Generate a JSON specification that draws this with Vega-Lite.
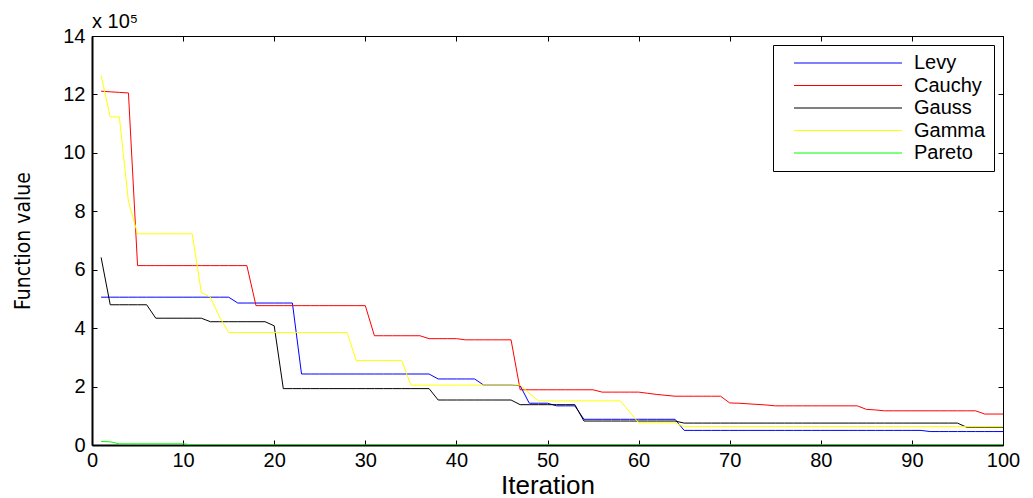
{
  "$schema": "https://vega.github.io/schema/vega-lite/v6.json",
  "width": 911,
  "height": 409,
  "autosize": "none",
  "padding": {"left": 92, "top": 36, "right": 30, "bottom": 53},
  "background": "white",
  "config": {
    "view": {"stroke": "black", "strokeWidth": 1},
    "axis": {"grid": false, "domainColor": "black", "tickColor": "black", "labelColor": "black", "titleColor": "black", "labelFont": "Liberation Sans", "titleFont": "Liberation Sans", "titleFontWeight": "normal", "labelFontSize": 20, "tickSize": -5, "tickWidth": 1}
  },
  "datasets": {
    "runs": [
    {"i":1,"Levy":5.06,"Cauchy":12.11,"Gauss":6.42,"Gamma":12.65,"Pareto":0.12},
    {"i":2,"Levy":5.06,"Cauchy":12.09,"Gauss":4.80,"Gamma":11.23,"Pareto":0.11},
    {"i":3,"Levy":5.06,"Cauchy":12.07,"Gauss":4.80,"Gamma":11.23,"Pareto":0.04},
    {"i":4,"Levy":5.06,"Cauchy":12.05,"Gauss":4.80,"Gamma":8.34,"Pareto":0.04},
    {"i":5,"Levy":5.06,"Cauchy":6.14,"Gauss":4.80,"Gamma":7.23,"Pareto":0.04},
    {"i":6,"Levy":5.06,"Cauchy":6.14,"Gauss":4.80,"Gamma":7.23,"Pareto":0.04},
    {"i":7,"Levy":5.06,"Cauchy":6.14,"Gauss":4.34,"Gamma":7.23,"Pareto":0.04},
    {"i":8,"Levy":5.06,"Cauchy":6.14,"Gauss":4.34,"Gamma":7.23,"Pareto":0.04},
    {"i":9,"Levy":5.06,"Cauchy":6.14,"Gauss":4.34,"Gamma":7.23,"Pareto":0.04},
    {"i":10,"Levy":5.06,"Cauchy":6.14,"Gauss":4.34,"Gamma":7.23,"Pareto":0.04},
    {"i":11,"Levy":5.06,"Cauchy":6.14,"Gauss":4.34,"Gamma":7.23,"Pareto":0.005},
    {"i":12,"Levy":5.06,"Cauchy":6.14,"Gauss":4.34,"Gamma":5.22,"Pareto":0.005},
    {"i":13,"Levy":5.06,"Cauchy":6.14,"Gauss":4.22,"Gamma":5.06,"Pareto":0.005},
    {"i":14,"Levy":5.06,"Cauchy":6.14,"Gauss":4.22,"Gamma":4.38,"Pareto":0.005},
    {"i":15,"Levy":5.06,"Cauchy":6.14,"Gauss":4.22,"Gamma":3.85,"Pareto":0.005},
    {"i":16,"Levy":4.86,"Cauchy":6.14,"Gauss":4.22,"Gamma":3.85,"Pareto":0.005},
    {"i":17,"Levy":4.86,"Cauchy":6.14,"Gauss":4.22,"Gamma":3.85,"Pareto":0.005},
    {"i":18,"Levy":4.86,"Cauchy":4.77,"Gauss":4.22,"Gamma":3.85,"Pareto":0.005},
    {"i":19,"Levy":4.86,"Cauchy":4.77,"Gauss":4.22,"Gamma":3.85,"Pareto":0.005},
    {"i":20,"Levy":4.86,"Cauchy":4.77,"Gauss":4.08,"Gamma":3.85,"Pareto":0.005},
    {"i":21,"Levy":4.86,"Cauchy":4.77,"Gauss":1.93,"Gamma":3.85,"Pareto":0.005},
    {"i":22,"Levy":4.86,"Cauchy":4.77,"Gauss":1.93,"Gamma":3.85,"Pareto":0.005},
    {"i":23,"Levy":2.43,"Cauchy":4.77,"Gauss":1.93,"Gamma":3.85,"Pareto":0.005},
    {"i":24,"Levy":2.43,"Cauchy":4.77,"Gauss":1.93,"Gamma":3.85,"Pareto":0.005},
    {"i":25,"Levy":2.43,"Cauchy":4.77,"Gauss":1.93,"Gamma":3.85,"Pareto":0.005},
    {"i":26,"Levy":2.43,"Cauchy":4.77,"Gauss":1.93,"Gamma":3.85,"Pareto":0.005},
    {"i":27,"Levy":2.43,"Cauchy":4.77,"Gauss":1.93,"Gamma":3.85,"Pareto":0.005},
    {"i":28,"Levy":2.43,"Cauchy":4.77,"Gauss":1.93,"Gamma":3.85,"Pareto":0.005},
    {"i":29,"Levy":2.43,"Cauchy":4.77,"Gauss":1.93,"Gamma":2.89,"Pareto":0.005},
    {"i":30,"Levy":2.43,"Cauchy":4.77,"Gauss":1.93,"Gamma":2.89,"Pareto":0.005},
    {"i":31,"Levy":2.43,"Cauchy":3.74,"Gauss":1.93,"Gamma":2.89,"Pareto":0.005},
    {"i":32,"Levy":2.43,"Cauchy":3.74,"Gauss":1.93,"Gamma":2.89,"Pareto":0.005},
    {"i":33,"Levy":2.43,"Cauchy":3.74,"Gauss":1.93,"Gamma":2.89,"Pareto":0.005},
    {"i":34,"Levy":2.43,"Cauchy":3.74,"Gauss":1.93,"Gamma":2.89,"Pareto":0.005},
    {"i":35,"Levy":2.43,"Cauchy":3.74,"Gauss":1.93,"Gamma":2.05,"Pareto":0.005},
    {"i":36,"Levy":2.43,"Cauchy":3.74,"Gauss":1.93,"Gamma":2.05,"Pareto":0.005},
    {"i":37,"Levy":2.43,"Cauchy":3.64,"Gauss":1.93,"Gamma":2.05,"Pareto":0.005},
    {"i":38,"Levy":2.26,"Cauchy":3.64,"Gauss":1.54,"Gamma":2.05,"Pareto":0.005},
    {"i":39,"Levy":2.26,"Cauchy":3.64,"Gauss":1.54,"Gamma":2.05,"Pareto":0.005},
    {"i":40,"Levy":2.26,"Cauchy":3.64,"Gauss":1.54,"Gamma":2.05,"Pareto":0.005},
    {"i":41,"Levy":2.26,"Cauchy":3.60,"Gauss":1.54,"Gamma":2.05,"Pareto":0.005},
    {"i":42,"Levy":2.26,"Cauchy":3.60,"Gauss":1.54,"Gamma":2.05,"Pareto":0.005},
    {"i":43,"Levy":2.05,"Cauchy":3.60,"Gauss":1.54,"Gamma":2.05,"Pareto":0.005},
    {"i":44,"Levy":2.05,"Cauchy":3.60,"Gauss":1.54,"Gamma":2.05,"Pareto":0.005},
    {"i":45,"Levy":2.05,"Cauchy":3.60,"Gauss":1.54,"Gamma":2.05,"Pareto":0.005},
    {"i":46,"Levy":2.05,"Cauchy":3.60,"Gauss":1.54,"Gamma":2.05,"Pareto":0.005},
    {"i":47,"Levy":2.03,"Cauchy":1.89,"Gauss":1.38,"Gamma":2.05,"Pareto":0.005},
    {"i":48,"Levy":1.43,"Cauchy":1.89,"Gauss":1.38,"Gamma":1.77,"Pareto":0.005},
    {"i":49,"Levy":1.43,"Cauchy":1.89,"Gauss":1.38,"Gamma":1.51,"Pareto":0.005},
    {"i":50,"Levy":1.43,"Cauchy":1.89,"Gauss":1.38,"Gamma":1.51,"Pareto":0.005},
    {"i":51,"Levy":1.34,"Cauchy":1.89,"Gauss":1.38,"Gamma":1.51,"Pareto":0.005},
    {"i":52,"Levy":1.34,"Cauchy":1.89,"Gauss":1.38,"Gamma":1.51,"Pareto":0.005},
    {"i":53,"Levy":1.34,"Cauchy":1.89,"Gauss":1.38,"Gamma":1.51,"Pareto":0.005},
    {"i":54,"Levy":0.88,"Cauchy":1.89,"Gauss":0.82,"Gamma":1.51,"Pareto":0.005},
    {"i":55,"Levy":0.88,"Cauchy":1.89,"Gauss":0.82,"Gamma":1.51,"Pareto":0.005},
    {"i":56,"Levy":0.88,"Cauchy":1.81,"Gauss":0.82,"Gamma":1.51,"Pareto":0.005},
    {"i":57,"Levy":0.88,"Cauchy":1.81,"Gauss":0.82,"Gamma":1.51,"Pareto":0.005},
    {"i":58,"Levy":0.88,"Cauchy":1.81,"Gauss":0.82,"Gamma":1.51,"Pareto":0.005},
    {"i":59,"Levy":0.88,"Cauchy":1.81,"Gauss":0.82,"Gamma":1.14,"Pareto":0.005},
    {"i":60,"Levy":0.88,"Cauchy":1.81,"Gauss":0.82,"Gamma":0.76,"Pareto":0.005},
    {"i":61,"Levy":0.88,"Cauchy":1.77,"Gauss":0.82,"Gamma":0.76,"Pareto":0.005},
    {"i":62,"Levy":0.88,"Cauchy":1.73,"Gauss":0.82,"Gamma":0.76,"Pareto":0.005},
    {"i":63,"Levy":0.88,"Cauchy":1.70,"Gauss":0.82,"Gamma":0.76,"Pareto":0.005},
    {"i":64,"Levy":0.88,"Cauchy":1.67,"Gauss":0.82,"Gamma":0.76,"Pareto":0.005},
    {"i":65,"Levy":0.50,"Cauchy":1.67,"Gauss":0.75,"Gamma":0.63,"Pareto":0.005},
    {"i":66,"Levy":0.50,"Cauchy":1.67,"Gauss":0.75,"Gamma":0.63,"Pareto":0.005},
    {"i":67,"Levy":0.50,"Cauchy":1.67,"Gauss":0.75,"Gamma":0.63,"Pareto":0.005},
    {"i":68,"Levy":0.50,"Cauchy":1.67,"Gauss":0.75,"Gamma":0.63,"Pareto":0.005},
    {"i":69,"Levy":0.50,"Cauchy":1.67,"Gauss":0.75,"Gamma":0.63,"Pareto":0.005},
    {"i":70,"Levy":0.50,"Cauchy":1.44,"Gauss":0.75,"Gamma":0.63,"Pareto":0.005},
    {"i":71,"Levy":0.50,"Cauchy":1.43,"Gauss":0.75,"Gamma":0.63,"Pareto":0.005},
    {"i":72,"Levy":0.50,"Cauchy":1.41,"Gauss":0.75,"Gamma":0.63,"Pareto":0.005},
    {"i":73,"Levy":0.50,"Cauchy":1.39,"Gauss":0.75,"Gamma":0.63,"Pareto":0.005},
    {"i":74,"Levy":0.50,"Cauchy":1.37,"Gauss":0.75,"Gamma":0.63,"Pareto":0.005},
    {"i":75,"Levy":0.50,"Cauchy":1.34,"Gauss":0.75,"Gamma":0.63,"Pareto":0.005},
    {"i":76,"Levy":0.50,"Cauchy":1.34,"Gauss":0.75,"Gamma":0.63,"Pareto":0.005},
    {"i":77,"Levy":0.50,"Cauchy":1.34,"Gauss":0.75,"Gamma":0.63,"Pareto":0.005},
    {"i":78,"Levy":0.50,"Cauchy":1.34,"Gauss":0.75,"Gamma":0.63,"Pareto":0.005},
    {"i":79,"Levy":0.50,"Cauchy":1.34,"Gauss":0.75,"Gamma":0.63,"Pareto":0.005},
    {"i":80,"Levy":0.50,"Cauchy":1.34,"Gauss":0.75,"Gamma":0.63,"Pareto":0.005},
    {"i":81,"Levy":0.50,"Cauchy":1.34,"Gauss":0.75,"Gamma":0.63,"Pareto":0.005},
    {"i":82,"Levy":0.50,"Cauchy":1.34,"Gauss":0.75,"Gamma":0.63,"Pareto":0.005},
    {"i":83,"Levy":0.50,"Cauchy":1.34,"Gauss":0.75,"Gamma":0.63,"Pareto":0.005},
    {"i":84,"Levy":0.50,"Cauchy":1.34,"Gauss":0.75,"Gamma":0.63,"Pareto":0.005},
    {"i":85,"Levy":0.50,"Cauchy":1.22,"Gauss":0.75,"Gamma":0.63,"Pareto":0.005},
    {"i":86,"Levy":0.50,"Cauchy":1.20,"Gauss":0.75,"Gamma":0.63,"Pareto":0.005},
    {"i":87,"Levy":0.50,"Cauchy":1.17,"Gauss":0.75,"Gamma":0.63,"Pareto":0.005},
    {"i":88,"Levy":0.50,"Cauchy":1.17,"Gauss":0.75,"Gamma":0.63,"Pareto":0.005},
    {"i":89,"Levy":0.50,"Cauchy":1.17,"Gauss":0.75,"Gamma":0.63,"Pareto":0.005},
    {"i":90,"Levy":0.50,"Cauchy":1.17,"Gauss":0.75,"Gamma":0.63,"Pareto":0.005},
    {"i":91,"Levy":0.50,"Cauchy":1.17,"Gauss":0.75,"Gamma":0.63,"Pareto":0.005},
    {"i":92,"Levy":0.46,"Cauchy":1.17,"Gauss":0.75,"Gamma":0.63,"Pareto":0.005},
    {"i":93,"Levy":0.46,"Cauchy":1.17,"Gauss":0.75,"Gamma":0.63,"Pareto":0.005},
    {"i":94,"Levy":0.46,"Cauchy":1.17,"Gauss":0.75,"Gamma":0.63,"Pareto":0.005},
    {"i":95,"Levy":0.46,"Cauchy":1.17,"Gauss":0.75,"Gamma":0.63,"Pareto":0.005},
    {"i":96,"Levy":0.46,"Cauchy":1.17,"Gauss":0.61,"Gamma":0.63,"Pareto":0.005},
    {"i":97,"Levy":0.46,"Cauchy":1.17,"Gauss":0.61,"Gamma":0.63,"Pareto":0.005},
    {"i":98,"Levy":0.46,"Cauchy":1.06,"Gauss":0.61,"Gamma":0.63,"Pareto":0.005},
    {"i":99,"Levy":0.46,"Cauchy":1.06,"Gauss":0.61,"Gamma":0.63,"Pareto":0.005},
    {"i":100,"Levy":0.46,"Cauchy":1.06,"Gauss":0.61,"Gamma":0.63,"Pareto":0.005}
    ],
    "notes": [{"note": "x 10⁵", "i": 0, "value": 14}]
  },
  "layer": [
    {
      "data": {"name": "runs"},
      "transform": [{"fold": ["Levy", "Cauchy", "Gauss", "Gamma", "Pareto"], "as": ["series", "value"]}],
      "mark": {"type": "line", "strokeWidth": 1, "clip": true},
      "encoding": {
        "x": {"field": "i", "type": "quantitative", "scale": {"domain": [0, 100], "nice": false},
              "axis": {"values": [0,10,20,30,40,50,60,70,80,90,100], "title": "Iteration", "titleFontSize": 26, "titlePadding": 2, "labelPadding": 10, "domainWidth": 2, "labelFlush": false}},
        "y": {"field": "value", "type": "quantitative", "scale": {"domain": [0, 14], "nice": false},
              "axis": {"values": [0,2,4,6,8,10,12,14], "title": "Function value", "titleFont": "DejaVu Sans Condensed, Liberation Sans, sans-serif", "titleFontSize": 21, "titlePadding": 29, "labelPadding": 12, "domainWidth": 2, "labelFlush": false}},
        "color": {"field": "series", "type": "nominal",
                  "scale": {"domain": ["Levy", "Cauchy", "Gauss", "Gamma", "Pareto"], "range": ["#0000FF", "#FF0000", "#000000", "#FFFF00", "#00FF00"]},
                  "legend": {"title": null, "orient": "top-right", "offset": 9, "symbolType": "M-9,0H9", "symbolSize": 144, "symbolStrokeWidth": 1, "labelFont": "Liberation Sans", "labelFontSize": 20, "labelColor": "black", "strokeColor": "black", "fillColor": "white", "padding": 8, "rowPadding": 2.5, "labelOffset": 56, "symbolOffset": 57}}
      }
    },
    {
      "data": {"name": "runs"},
      "transform": [{"fold": ["Levy", "Cauchy", "Gauss", "Gamma", "Pareto"], "as": ["series", "value"]}],
      "mark": {"type": "line", "opacity": 0},
      "encoding": {
        "x": {"field": "i", "type": "quantitative", "axis": {"orient": "top", "values": [0,10,20,30,40,50,60,70,80,90,100], "labels": false, "title": null, "domainWidth": 1}},
        "y": {"field": "value", "type": "quantitative", "axis": {"orient": "right", "values": [0,2,4,6,8,10,12,14], "labels": false, "title": null, "domainWidth": 1}},
        "detail": {"field": "series"}
      }
    },
    {
      "data": {"name": "notes"},
      "mark": {"type": "text", "align": "left", "baseline": "alphabetic", "dy": -8, "fontSize": 20, "font": "Liberation Sans", "color": "black", "clip": false},
      "encoding": {
        "x": {"field": "i", "type": "quantitative", "axis": null},
        "y": {"field": "value", "type": "quantitative", "axis": null},
        "text": {"field": "note"}
      }
    }
  ],
  "resolve": {"axis": {"x": "independent", "y": "independent"}}
}
